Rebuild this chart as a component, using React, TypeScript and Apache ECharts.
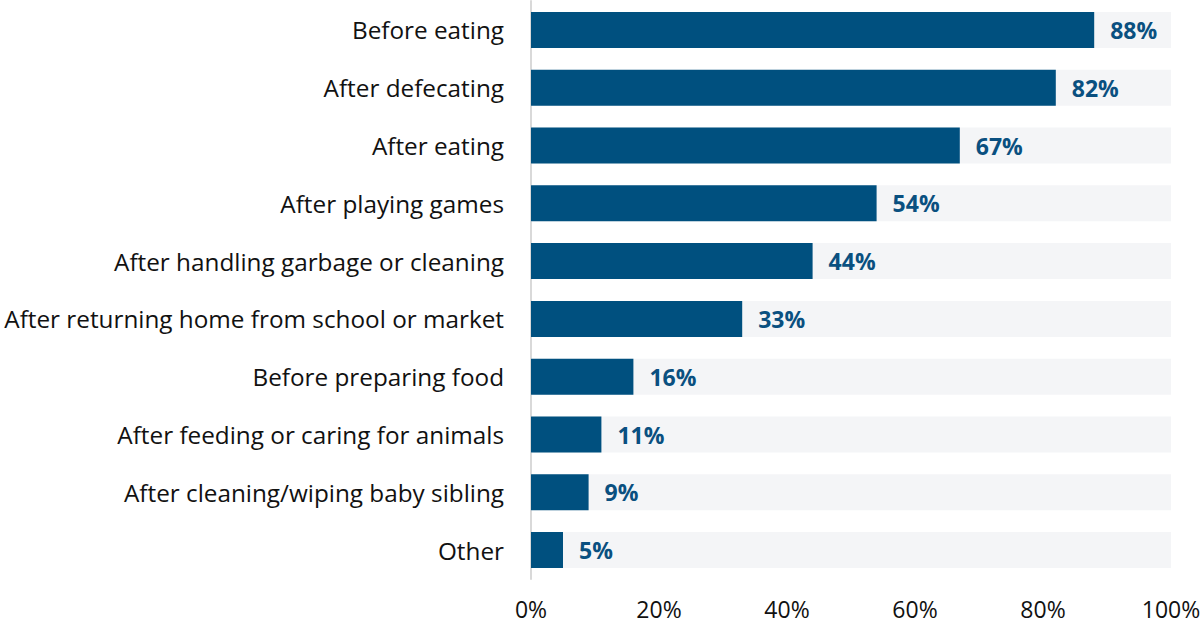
import React, { useEffect, useRef } from "react";
import * as echarts from "echarts";

const categories = [
  "Before eating",
  "After defecating",
  "After eating",
  "After playing games",
  "After handling garbage or cleaning",
  "After returning home from school or market",
  "Before preparing food",
  "After feeding or caring for animals",
  "After cleaning/wiping baby sibling",
  "Other",
];
const values = [88, 82, 67, 54, 44, 33, 16, 11, 9, 5];
const xTicks = [0, 20, 40, 60, 80, 100];

export default function App() {
  const ref = useRef<HTMLDivElement>(null);
  useEffect(() => {
    const chart = echarts.init(ref.current!, null, { renderer: "svg" });
    chart.setOption({
      animation: false,
      grid: {
        left: 531,
        right: 32,
        top: 1,
        bottom: 48,
        containLabel: false,
        outerBoundsMode: "none",
      },
      xAxis: {
        type: "value",
        min: xTicks[0],
        max: xTicks[xTicks.length - 1],
        interval: 20,
        axisLine: { show: false },
        axisTick: { show: false },
        splitLine: { show: false },
        axisLabel: {
          formatter: (v: number) => v + "%",
          fontFamily: "Open Sans",
          fontSize: 23,
          color: "#111",
          margin: 18,
        },
      },
      yAxis: {
        type: "category",
        data: categories,
        inverse: true,
        axisLine: { show: true, lineStyle: { color: "#d9d9d9", width: 2 } },
        axisTick: { show: false },
        axisLabel: {
          fontFamily: "Open Sans",
          fontSize: 24.3,
          color: "#111",
          margin: 27,
        },
      },
      series: [
        {
          type: "bar",
          data: values,
          barWidth: 36,
          itemStyle: { color: "#00507f" },
          showBackground: true,
          backgroundStyle: { color: "#f4f5f7" },
          label: {
            show: true,
            position: "right",
            distance: 16,
            formatter: "{c}%",
            fontFamily: "Open Sans",
            fontWeight: "bold",
            fontSize: 23,
            color: "#0a5080",
          },
        },
      ],
    });
    return () => chart.dispose();
  }, []);
  return (
    <div
      ref={ref}
      style={{ position: "absolute", left: 0, top: 0, width: 1203, height: 627 }}
    />
  );
}
